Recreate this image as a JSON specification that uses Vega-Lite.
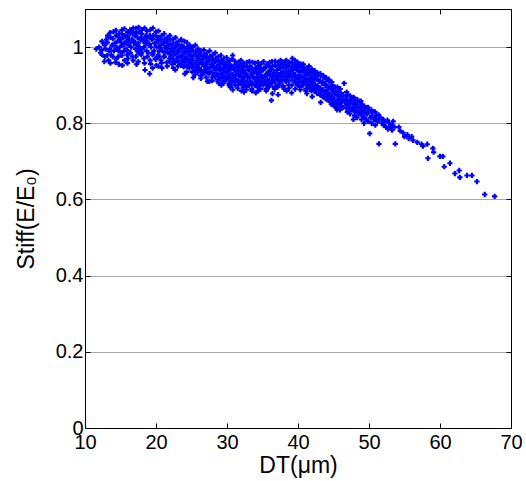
{
"$schema":"https://vega.github.io/schema/vega-lite/v6.json",
"width":426,"height":419,
"autosize":{"type":"none"},
"padding":{"left":85,"top":9,"right":15,"bottom":53},
"background":"white",
"config":{"view":{"stroke":null},"font":"Liberation Sans",
"axis":{"domainColor":"#000","domainWidth":1,"tickColor":"#000","tickWidth":1,"labelColor":"#000","titleColor":"#000","labelFont":"Liberation Sans","titleFont":"Liberation Sans","labelFontWeight":"normal","titleFontWeight":"normal","labelOverlap":false}},
"datasets":{"pts":[
{"dt":11.6,"stiff":0.995},{"dt":12.0,"stiff":1.0},{"dt":12.2,"stiff":0.985},{"dt":12.4,"stiff":0.98},{"dt":12.6,"stiff":1.01},
{"dt":12.8,"stiff":0.975},{"dt":13.0,"stiff":1.02},{"dt":12.9,"stiff":0.995},{"dt":13.2,"stiff":1.03},{"dt":13.4,"stiff":0.99},{"dt":13.3,"stiff":0.965},
{"dt":13.6,"stiff":1.025},{"dt":13.8,"stiff":1.005},{"dt":13.7,"stiff":0.98},
{"dt":14.0,"stiff":1.04},{"dt":14.2,"stiff":1.01},{"dt":14.1,"stiff":0.99},{"dt":14.3,"stiff":0.96},
{"dt":14.4,"stiff":1.03},{"dt":14.6,"stiff":1.015},{"dt":14.5,"stiff":0.995},{"dt":14.7,"stiff":0.975},
{"dt":14.8,"stiff":1.035},{"dt":15.0,"stiff":1.02},{"dt":14.9,"stiff":1.0},{"dt":15.1,"stiff":0.985},
{"dt":15.2,"stiff":1.045},{"dt":15.4,"stiff":1.025},{"dt":15.3,"stiff":1.005},{"dt":15.5,"stiff":0.99},{"dt":15.25,"stiff":0.952},
{"dt":15.6,"stiff":1.03},{"dt":15.8,"stiff":1.015},{"dt":15.7,"stiff":0.995},{"dt":15.9,"stiff":0.98},
{"dt":16.0,"stiff":1.04},{"dt":16.2,"stiff":1.02},{"dt":16.1,"stiff":1.005},{"dt":16.3,"stiff":0.985},{"dt":16.05,"stiff":0.97},
{"dt":16.4,"stiff":1.035},{"dt":16.6,"stiff":1.02},{"dt":16.5,"stiff":1.0},{"dt":16.7,"stiff":0.975},
{"dt":16.8,"stiff":1.05},{"dt":17.0,"stiff":1.03},{"dt":16.9,"stiff":1.01},{"dt":17.1,"stiff":0.995},
{"dt":17.2,"stiff":1.049},{"dt":17.4,"stiff":1.025},{"dt":17.3,"stiff":1.005},{"dt":17.5,"stiff":0.985},{"dt":17.25,"stiff":0.955},
{"dt":17.6,"stiff":1.04},{"dt":17.8,"stiff":1.02},{"dt":17.7,"stiff":1.0},{"dt":17.9,"stiff":0.98},
{"dt":18.0,"stiff":1.035},{"dt":18.2,"stiff":1.015},{"dt":18.1,"stiff":0.995},{"dt":18.3,"stiff":0.97},
{"dt":18.4,"stiff":1.05},{"dt":18.6,"stiff":1.03},{"dt":18.5,"stiff":1.01},{"dt":18.7,"stiff":0.99},{"dt":18.45,"stiff":0.94},
{"dt":18.8,"stiff":1.025},{"dt":19.0,"stiff":1.005},{"dt":18.9,"stiff":0.985},{"dt":19.1,"stiff":0.93},
{"dt":19.2,"stiff":1.045},{"dt":19.4,"stiff":1.02},{"dt":19.3,"stiff":1.0},{"dt":19.5,"stiff":0.98},{"dt":19.25,"stiff":0.956},
{"dt":19.6,"stiff":1.03},{"dt":19.8,"stiff":1.01},{"dt":19.7,"stiff":0.99},{"dt":19.9,"stiff":0.97},
{"dt":20.0,"stiff":1.04},{"dt":20.2,"stiff":1.02},{"dt":20.1,"stiff":1.0},{"dt":20.3,"stiff":0.98},{"dt":20.05,"stiff":0.952},
{"dt":20.4,"stiff":1.025},{"dt":20.6,"stiff":1.005},{"dt":20.5,"stiff":0.99},{"dt":20.7,"stiff":0.965},
{"dt":20.8,"stiff":1.03},{"dt":21.0,"stiff":1.01},{"dt":20.9,"stiff":0.99},{"dt":21.1,"stiff":0.975},{"dt":20.85,"stiff":0.945},
{"dt":21.2,"stiff":1.02},{"dt":21.4,"stiff":1.0},{"dt":21.3,"stiff":0.985},{"dt":21.5,"stiff":0.96},
{"dt":21.6,"stiff":1.025},{"dt":21.8,"stiff":1.005},{"dt":21.7,"stiff":0.985},{"dt":21.9,"stiff":0.97},
{"dt":22.0,"stiff":1.02},{"dt":22.2,"stiff":0.995},{"dt":22.1,"stiff":0.975},{"dt":22.3,"stiff":0.955},
{"dt":22.4,"stiff":1.02},{"dt":22.6,"stiff":1.0},{"dt":22.5,"stiff":0.98},{"dt":22.7,"stiff":0.96},{"dt":22.45,"stiff":0.945},
{"dt":22.8,"stiff":1.01},{"dt":23.0,"stiff":0.99},{"dt":22.9,"stiff":0.97},{"dt":23.1,"stiff":0.95},
{"dt":23.2,"stiff":1.015},{"dt":23.4,"stiff":0.995},{"dt":23.3,"stiff":0.975},{"dt":23.5,"stiff":0.955},
{"dt":23.6,"stiff":1.005},{"dt":23.8,"stiff":0.985},{"dt":23.7,"stiff":0.965},{"dt":23.9,"stiff":0.948},
{"dt":24.0,"stiff":1.015},{"dt":24.2,"stiff":0.99},{"dt":24.1,"stiff":0.97},{"dt":24.3,"stiff":0.95},{"dt":24.05,"stiff":0.93},
{"dt":24.4,"stiff":1.0},{"dt":24.6,"stiff":0.98},{"dt":24.5,"stiff":0.96},{"dt":24.7,"stiff":0.945},
{"dt":24.8,"stiff":0.995},{"dt":25.0,"stiff":0.975},{"dt":24.9,"stiff":0.955},{"dt":25.1,"stiff":0.935},
{"dt":25.2,"stiff":1.0},{"dt":25.4,"stiff":0.98},{"dt":25.3,"stiff":0.96},{"dt":25.5,"stiff":0.94},{"dt":25.25,"stiff":0.92},
{"dt":25.6,"stiff":0.99},{"dt":25.8,"stiff":0.97},{"dt":25.7,"stiff":0.95},{"dt":25.9,"stiff":0.935},
{"dt":26.0,"stiff":0.985},{"dt":26.2,"stiff":0.965},{"dt":26.1,"stiff":0.945},{"dt":26.3,"stiff":0.925},
{"dt":26.4,"stiff":0.99},{"dt":26.6,"stiff":0.97},{"dt":26.5,"stiff":0.955},{"dt":26.7,"stiff":0.935},
{"dt":26.8,"stiff":0.98},{"dt":27.0,"stiff":0.96},{"dt":26.9,"stiff":0.94},{"dt":27.1,"stiff":0.92},
{"dt":27.2,"stiff":0.985},{"dt":27.4,"stiff":0.965},{"dt":27.3,"stiff":0.945},{"dt":27.5,"stiff":0.93},{"dt":27.25,"stiff":0.91},
{"dt":27.6,"stiff":0.975},{"dt":27.8,"stiff":0.955},{"dt":27.7,"stiff":0.935},{"dt":27.9,"stiff":0.92},
{"dt":28.0,"stiff":0.98},{"dt":28.2,"stiff":0.96},{"dt":28.1,"stiff":0.945},{"dt":28.3,"stiff":0.925},
{"dt":28.4,"stiff":0.97},{"dt":28.6,"stiff":0.95},{"dt":28.5,"stiff":0.93},{"dt":28.7,"stiff":0.915},
{"dt":28.8,"stiff":0.975},{"dt":29.0,"stiff":0.955},{"dt":28.9,"stiff":0.94},{"dt":29.1,"stiff":0.92},{"dt":28.85,"stiff":0.905},
{"dt":29.2,"stiff":0.965},{"dt":29.4,"stiff":0.945},{"dt":29.3,"stiff":0.93},{"dt":29.5,"stiff":0.91},
{"dt":29.6,"stiff":0.97},{"dt":29.8,"stiff":0.95},{"dt":29.7,"stiff":0.935},{"dt":29.9,"stiff":0.915},
{"dt":30.0,"stiff":0.96},{"dt":30.2,"stiff":0.945},{"dt":30.1,"stiff":0.925},{"dt":30.3,"stiff":0.905},
{"dt":30.4,"stiff":0.965},{"dt":30.6,"stiff":0.95},{"dt":30.5,"stiff":0.93},{"dt":30.7,"stiff":0.91},{"dt":30.45,"stiff":0.895},
{"dt":30.8,"stiff":0.978},{"dt":31.0,"stiff":0.94},{"dt":30.9,"stiff":0.92},{"dt":31.1,"stiff":0.9},
{"dt":31.2,"stiff":0.955},{"dt":31.4,"stiff":0.935},{"dt":31.3,"stiff":0.915},{"dt":31.5,"stiff":0.9},
{"dt":31.6,"stiff":0.96},{"dt":31.8,"stiff":0.94},{"dt":31.7,"stiff":0.925},{"dt":31.9,"stiff":0.905},
{"dt":32.0,"stiff":0.955},{"dt":32.2,"stiff":0.935},{"dt":32.1,"stiff":0.915},{"dt":32.3,"stiff":0.895},{"dt":32.05,"stiff":0.885},
{"dt":32.4,"stiff":0.95},{"dt":32.6,"stiff":0.93},{"dt":32.5,"stiff":0.91},{"dt":32.7,"stiff":0.895},
{"dt":32.8,"stiff":0.96},{"dt":33.0,"stiff":0.94},{"dt":32.9,"stiff":0.92},{"dt":33.1,"stiff":0.9},
{"dt":33.2,"stiff":0.95},{"dt":33.4,"stiff":0.93},{"dt":33.3,"stiff":0.91},{"dt":33.5,"stiff":0.89},
{"dt":33.6,"stiff":0.96},{"dt":33.8,"stiff":0.935},{"dt":33.7,"stiff":0.92},{"dt":33.9,"stiff":0.9},
{"dt":34.0,"stiff":0.945},{"dt":34.2,"stiff":0.93},{"dt":34.1,"stiff":0.91},{"dt":34.3,"stiff":0.895},{"dt":34.05,"stiff":0.88},
{"dt":34.4,"stiff":0.95},{"dt":34.6,"stiff":0.935},{"dt":34.5,"stiff":0.915},{"dt":34.7,"stiff":0.9},
{"dt":34.8,"stiff":0.955},{"dt":35.0,"stiff":0.94},{"dt":34.9,"stiff":0.92},{"dt":35.1,"stiff":0.905},
{"dt":35.2,"stiff":0.945},{"dt":35.4,"stiff":0.925},{"dt":35.3,"stiff":0.91},{"dt":35.5,"stiff":0.89},
{"dt":35.6,"stiff":0.955},{"dt":35.8,"stiff":0.935},{"dt":35.7,"stiff":0.915},{"dt":35.9,"stiff":0.9},
{"dt":36.0,"stiff":0.96},{"dt":36.2,"stiff":0.94},{"dt":36.1,"stiff":0.925},{"dt":36.3,"stiff":0.905},{"dt":36.25,"stiff":0.86},
{"dt":36.4,"stiff":0.95},{"dt":36.6,"stiff":0.93},{"dt":36.5,"stiff":0.915},{"dt":36.7,"stiff":0.895},
{"dt":36.8,"stiff":0.963},{"dt":37.0,"stiff":0.94},{"dt":36.9,"stiff":0.92},{"dt":37.1,"stiff":0.9},
{"dt":37.2,"stiff":0.96},{"dt":37.4,"stiff":0.945},{"dt":37.3,"stiff":0.925},{"dt":37.5,"stiff":0.91},
{"dt":37.6,"stiff":0.955},{"dt":37.8,"stiff":0.935},{"dt":37.7,"stiff":0.915},{"dt":37.9,"stiff":0.895},
{"dt":38.0,"stiff":0.96},{"dt":38.2,"stiff":0.945},{"dt":38.1,"stiff":0.925},{"dt":38.3,"stiff":0.91},{"dt":38.05,"stiff":0.89},
{"dt":38.4,"stiff":0.955},{"dt":38.6,"stiff":0.935},{"dt":38.5,"stiff":0.92},{"dt":38.7,"stiff":0.9},
{"dt":38.8,"stiff":0.96},{"dt":39.0,"stiff":0.94},{"dt":38.9,"stiff":0.925},{"dt":39.1,"stiff":0.88},
{"dt":39.2,"stiff":0.97},{"dt":39.4,"stiff":0.95},{"dt":39.3,"stiff":0.93},{"dt":39.5,"stiff":0.91},
{"dt":39.6,"stiff":0.955},{"dt":39.8,"stiff":0.94},{"dt":39.7,"stiff":0.92},{"dt":39.9,"stiff":0.9},
{"dt":40.0,"stiff":0.95},{"dt":40.2,"stiff":0.935},{"dt":40.1,"stiff":0.915},{"dt":40.3,"stiff":0.895},
{"dt":40.4,"stiff":0.955},{"dt":40.6,"stiff":0.94},{"dt":40.5,"stiff":0.92},{"dt":40.7,"stiff":0.905},
{"dt":40.8,"stiff":0.947},{"dt":41.0,"stiff":0.93},{"dt":40.9,"stiff":0.91},{"dt":41.1,"stiff":0.89},
{"dt":41.2,"stiff":0.945},{"dt":41.4,"stiff":0.93},{"dt":41.3,"stiff":0.915},{"dt":41.5,"stiff":0.9},{"dt":41.25,"stiff":0.878},
{"dt":41.6,"stiff":0.94},{"dt":41.8,"stiff":0.92},{"dt":41.7,"stiff":0.905},{"dt":41.9,"stiff":0.885},
{"dt":42.0,"stiff":0.935},{"dt":42.2,"stiff":0.915},{"dt":42.1,"stiff":0.9},{"dt":42.3,"stiff":0.885},
{"dt":42.4,"stiff":0.93},{"dt":42.6,"stiff":0.915},{"dt":42.5,"stiff":0.895},{"dt":42.7,"stiff":0.88},
{"dt":42.8,"stiff":0.925},{"dt":43.0,"stiff":0.91},{"dt":42.9,"stiff":0.89},{"dt":43.1,"stiff":0.875},
{"dt":43.2,"stiff":0.925},{"dt":43.4,"stiff":0.905},{"dt":43.3,"stiff":0.885},{"dt":43.5,"stiff":0.87},
{"dt":43.6,"stiff":0.92},{"dt":43.8,"stiff":0.9},{"dt":43.7,"stiff":0.88},{"dt":43.9,"stiff":0.865},
{"dt":44.0,"stiff":0.915},{"dt":44.2,"stiff":0.895},{"dt":44.1,"stiff":0.875},{"dt":44.3,"stiff":0.86},
{"dt":44.4,"stiff":0.91},{"dt":44.6,"stiff":0.89},{"dt":44.5,"stiff":0.87},{"dt":44.7,"stiff":0.85},
{"dt":44.8,"stiff":0.9},{"dt":45.0,"stiff":0.88},{"dt":44.9,"stiff":0.86},{"dt":45.1,"stiff":0.845},
{"dt":45.2,"stiff":0.895},{"dt":45.4,"stiff":0.875},{"dt":45.3,"stiff":0.855},{"dt":45.5,"stiff":0.84},
{"dt":45.6,"stiff":0.885},{"dt":45.8,"stiff":0.865},{"dt":45.7,"stiff":0.85},
{"dt":46.0,"stiff":0.88},{"dt":46.2,"stiff":0.86},{"dt":46.1,"stiff":0.845},
{"dt":46.5,"stiff":0.905},{"dt":46.7,"stiff":0.87},{"dt":46.6,"stiff":0.855},{"dt":46.8,"stiff":0.84},
{"dt":47.0,"stiff":0.875},{"dt":47.2,"stiff":0.855},{"dt":47.1,"stiff":0.84},
{"dt":47.5,"stiff":0.865},{"dt":47.7,"stiff":0.85},{"dt":47.6,"stiff":0.835},{"dt":47.8,"stiff":0.81},
{"dt":48.0,"stiff":0.86},{"dt":48.2,"stiff":0.845},{"dt":48.1,"stiff":0.83},
{"dt":48.5,"stiff":0.855},{"dt":48.7,"stiff":0.84},{"dt":48.6,"stiff":0.825},
{"dt":49.0,"stiff":0.85},{"dt":49.2,"stiff":0.835},{"dt":49.1,"stiff":0.82},{"dt":49.3,"stiff":0.8},
{"dt":49.5,"stiff":0.84},{"dt":49.7,"stiff":0.825},{"dt":49.6,"stiff":0.81},
{"dt":50.0,"stiff":0.835},{"dt":50.2,"stiff":0.815},{"dt":50.1,"stiff":0.773},
{"dt":50.5,"stiff":0.83},{"dt":50.7,"stiff":0.81},
{"dt":51.0,"stiff":0.82},{"dt":51.2,"stiff":0.805},{"dt":51.4,"stiff":0.746},
{"dt":51.6,"stiff":0.815},{"dt":51.8,"stiff":0.8},
{"dt":52.2,"stiff":0.805},{"dt":52.4,"stiff":0.79},
{"dt":52.8,"stiff":0.8},{"dt":53.0,"stiff":0.79},
{"dt":53.4,"stiff":0.805},{"dt":53.6,"stiff":0.79},{"dt":53.7,"stiff":0.746},
{"dt":54.2,"stiff":0.79},{"dt":54.4,"stiff":0.78},
{"dt":54.8,"stiff":0.775},{"dt":55.0,"stiff":0.765},
{"dt":55.4,"stiff":0.77},{"dt":55.6,"stiff":0.76},
{"dt":56.0,"stiff":0.765},{"dt":56.2,"stiff":0.755},
{"dt":56.8,"stiff":0.75},{"dt":57.4,"stiff":0.745},{"dt":57.6,"stiff":0.74},
{"dt":58.2,"stiff":0.745},{"dt":58.3,"stiff":0.708},
{"dt":59.0,"stiff":0.734},{"dt":59.1,"stiff":0.724},
{"dt":60.0,"stiff":0.713},{"dt":60.4,"stiff":0.713},{"dt":60.6,"stiff":0.686},
{"dt":61.4,"stiff":0.695},{"dt":62.1,"stiff":0.668},{"dt":62.7,"stiff":0.676},{"dt":62.8,"stiff":0.658},
{"dt":63.8,"stiff":0.663},{"dt":64.5,"stiff":0.663},{"dt":65.2,"stiff":0.647},
{"dt":66.3,"stiff":0.613},{"dt":67.7,"stiff":0.608},
{"dt":12.35,"stiff":0.992},{"dt":12.38,"stiff":1.015},
{"dt":12.75,"stiff":1.005},{"dt":12.72,"stiff":0.962},
{"dt":13.15,"stiff":1.012},{"dt":13.12,"stiff":0.978},
{"dt":13.55,"stiff":1.038},{"dt":13.5,"stiff":0.995},{"dt":13.58,"stiff":0.958},
{"dt":13.95,"stiff":1.022},{"dt":13.9,"stiff":0.975},
{"dt":14.35,"stiff":1.044},{"dt":14.32,"stiff":1.002},{"dt":14.38,"stiff":0.968},
{"dt":14.75,"stiff":1.026},{"dt":14.7,"stiff":0.99},{"dt":14.78,"stiff":0.955},
{"dt":15.15,"stiff":1.035},{"dt":15.1,"stiff":1.012},{"dt":15.18,"stiff":0.978},
{"dt":15.55,"stiff":1.048},{"dt":15.5,"stiff":1.008},{"dt":15.58,"stiff":0.965},
{"dt":15.95,"stiff":1.028},{"dt":15.9,"stiff":0.992},{"dt":15.98,"stiff":0.958},
{"dt":16.35,"stiff":1.045},{"dt":16.3,"stiff":1.012},{"dt":16.38,"stiff":0.985},
{"dt":16.75,"stiff":1.04},{"dt":16.7,"stiff":1.018},{"dt":16.78,"stiff":0.965},
{"dt":17.15,"stiff":1.035},{"dt":17.1,"stiff":1.012},{"dt":17.18,"stiff":0.975},
{"dt":17.55,"stiff":1.052},{"dt":17.5,"stiff":1.01},{"dt":17.58,"stiff":0.99},{"dt":17.52,"stiff":0.962},
{"dt":17.95,"stiff":1.045},{"dt":17.9,"stiff":1.025},{"dt":17.98,"stiff":0.985},
{"dt":18.35,"stiff":1.022},{"dt":18.3,"stiff":1.0},{"dt":18.38,"stiff":0.958},
{"dt":18.75,"stiff":1.042},{"dt":18.7,"stiff":1.015},{"dt":18.78,"stiff":0.975},
{"dt":19.15,"stiff":1.03},{"dt":19.1,"stiff":1.008},{"dt":19.18,"stiff":0.965},
{"dt":19.55,"stiff":1.05},{"dt":19.5,"stiff":1.022},{"dt":19.58,"stiff":0.985},{"dt":19.52,"stiff":0.945},
{"dt":19.95,"stiff":1.03},{"dt":19.9,"stiff":1.01},{"dt":19.98,"stiff":0.968},
{"dt":20.35,"stiff":1.042},{"dt":20.3,"stiff":1.015},{"dt":20.38,"stiff":0.975},{"dt":20.32,"stiff":0.95},
{"dt":20.75,"stiff":1.02},{"dt":20.7,"stiff":0.998},{"dt":20.78,"stiff":0.958},
{"dt":21.15,"stiff":1.035},{"dt":21.1,"stiff":1.01},{"dt":21.18,"stiff":0.975},
{"dt":21.55,"stiff":1.015},{"dt":21.5,"stiff":0.995},{"dt":21.58,"stiff":0.95},
{"dt":21.95,"stiff":1.03},{"dt":21.9,"stiff":1.005},{"dt":21.98,"stiff":0.985},{"dt":21.92,"stiff":0.962},
{"dt":22.35,"stiff":1.01},{"dt":22.3,"stiff":0.99},{"dt":22.38,"stiff":0.968},
{"dt":22.75,"stiff":1.025},{"dt":22.7,"stiff":1.0},{"dt":22.78,"stiff":0.982},{"dt":22.72,"stiff":0.94},
{"dt":23.15,"stiff":1.005},{"dt":23.1,"stiff":0.985},{"dt":23.18,"stiff":0.962},
{"dt":23.55,"stiff":1.02},{"dt":23.5,"stiff":0.995},{"dt":23.58,"stiff":0.975},{"dt":23.52,"stiff":0.952},
{"dt":23.95,"stiff":1.0},{"dt":23.9,"stiff":0.98},{"dt":23.98,"stiff":0.96},
{"dt":24.35,"stiff":1.012},{"dt":24.3,"stiff":0.99},{"dt":24.38,"stiff":0.97},{"dt":24.32,"stiff":0.935},
{"dt":24.75,"stiff":1.005},{"dt":24.7,"stiff":0.985},{"dt":24.78,"stiff":0.965},
{"dt":25.15,"stiff":0.99},{"dt":25.1,"stiff":0.968},{"dt":25.18,"stiff":0.948},
{"dt":25.55,"stiff":1.005},{"dt":25.5,"stiff":0.98},{"dt":25.58,"stiff":0.96},{"dt":25.52,"stiff":0.928},
{"dt":25.95,"stiff":0.995},{"dt":25.9,"stiff":0.975},{"dt":25.98,"stiff":0.955},{"dt":25.92,"stiff":0.935},
{"dt":26.35,"stiff":0.98},{"dt":26.3,"stiff":0.96},{"dt":26.38,"stiff":0.94},{"dt":26.32,"stiff":0.918},
{"dt":26.75,"stiff":0.992},{"dt":26.7,"stiff":0.97},{"dt":26.78,"stiff":0.95},{"dt":26.72,"stiff":0.93},
{"dt":27.15,"stiff":0.975},{"dt":27.1,"stiff":0.955},{"dt":27.18,"stiff":0.935},
{"dt":27.55,"stiff":0.99},{"dt":27.5,"stiff":0.965},{"dt":27.58,"stiff":0.945},{"dt":27.52,"stiff":0.91},
{"dt":27.95,"stiff":0.97},{"dt":27.9,"stiff":0.952},{"dt":27.98,"stiff":0.932},{"dt":27.92,"stiff":0.912},
{"dt":28.35,"stiff":0.985},{"dt":28.3,"stiff":0.962},{"dt":28.38,"stiff":0.94},{"dt":28.32,"stiff":0.922},
{"dt":28.75,"stiff":0.965},{"dt":28.7,"stiff":0.945},{"dt":28.78,"stiff":0.928},{"dt":28.72,"stiff":0.91},
{"dt":29.15,"stiff":0.978},{"dt":29.1,"stiff":0.955},{"dt":29.18,"stiff":0.938},{"dt":29.12,"stiff":0.918},{"dt":29.2,"stiff":0.9},
{"dt":29.55,"stiff":0.96},{"dt":29.5,"stiff":0.94},{"dt":29.58,"stiff":0.922},{"dt":29.52,"stiff":0.905},
{"dt":29.95,"stiff":0.972},{"dt":29.9,"stiff":0.952},{"dt":29.98,"stiff":0.935},{"dt":29.92,"stiff":0.915},
{"dt":30.35,"stiff":0.955},{"dt":30.3,"stiff":0.94},{"dt":30.38,"stiff":0.918},{"dt":30.32,"stiff":0.9},
{"dt":30.75,"stiff":0.968},{"dt":30.7,"stiff":0.948},{"dt":30.78,"stiff":0.928},{"dt":30.72,"stiff":0.91},{"dt":30.8,"stiff":0.888},
{"dt":31.15,"stiff":0.962},{"dt":31.1,"stiff":0.945},{"dt":31.18,"stiff":0.925},{"dt":31.12,"stiff":0.908},
{"dt":31.55,"stiff":0.95},{"dt":31.5,"stiff":0.93},{"dt":31.58,"stiff":0.912},{"dt":31.52,"stiff":0.892},
{"dt":31.95,"stiff":0.965},{"dt":31.9,"stiff":0.945},{"dt":31.98,"stiff":0.925},{"dt":31.92,"stiff":0.905},
{"dt":32.35,"stiff":0.958},{"dt":32.3,"stiff":0.94},{"dt":32.38,"stiff":0.92},{"dt":32.32,"stiff":0.9},{"dt":32.4,"stiff":0.882},
{"dt":32.75,"stiff":0.948},{"dt":32.7,"stiff":0.928},{"dt":32.78,"stiff":0.908},{"dt":32.72,"stiff":0.888},
{"dt":33.15,"stiff":0.962},{"dt":33.1,"stiff":0.94},{"dt":33.18,"stiff":0.92},{"dt":33.12,"stiff":0.9},
{"dt":33.55,"stiff":0.945},{"dt":33.5,"stiff":0.925},{"dt":33.58,"stiff":0.905},{"dt":33.52,"stiff":0.885},
{"dt":33.95,"stiff":0.958},{"dt":33.9,"stiff":0.94},{"dt":33.98,"stiff":0.918},{"dt":33.92,"stiff":0.9},
{"dt":34.35,"stiff":0.96},{"dt":34.3,"stiff":0.942},{"dt":34.38,"stiff":0.922},{"dt":34.32,"stiff":0.905},{"dt":34.4,"stiff":0.885},
{"dt":34.75,"stiff":0.945},{"dt":34.7,"stiff":0.928},{"dt":34.78,"stiff":0.91},{"dt":34.72,"stiff":0.89},
{"dt":35.15,"stiff":0.962},{"dt":35.1,"stiff":0.94},{"dt":35.18,"stiff":0.92},{"dt":35.12,"stiff":0.9},
{"dt":35.55,"stiff":0.948},{"dt":35.5,"stiff":0.928},{"dt":35.58,"stiff":0.905},{"dt":35.52,"stiff":0.885},
{"dt":35.95,"stiff":0.95},{"dt":35.9,"stiff":0.932},{"dt":35.98,"stiff":0.912},{"dt":35.92,"stiff":0.895},
{"dt":36.35,"stiff":0.962},{"dt":36.3,"stiff":0.942},{"dt":36.38,"stiff":0.922},{"dt":36.32,"stiff":0.905},{"dt":36.4,"stiff":0.878},
{"dt":36.75,"stiff":0.952},{"dt":36.7,"stiff":0.932},{"dt":36.78,"stiff":0.91},{"dt":36.72,"stiff":0.89},
{"dt":37.15,"stiff":0.95},{"dt":37.1,"stiff":0.932},{"dt":37.18,"stiff":0.915},{"dt":37.12,"stiff":0.895},{"dt":37.2,"stiff":0.875},
{"dt":37.55,"stiff":0.965},{"dt":37.5,"stiff":0.945},{"dt":37.58,"stiff":0.925},{"dt":37.52,"stiff":0.905},
{"dt":37.95,"stiff":0.952},{"dt":37.9,"stiff":0.935},{"dt":37.98,"stiff":0.915},{"dt":37.92,"stiff":0.898},
{"dt":38.35,"stiff":0.965},{"dt":38.3,"stiff":0.945},{"dt":38.38,"stiff":0.928},{"dt":38.32,"stiff":0.91},{"dt":38.4,"stiff":0.885},
{"dt":38.75,"stiff":0.95},{"dt":38.7,"stiff":0.932},{"dt":38.78,"stiff":0.912},{"dt":38.72,"stiff":0.892},
{"dt":39.15,"stiff":0.958},{"dt":39.1,"stiff":0.94},{"dt":39.18,"stiff":0.92},{"dt":39.12,"stiff":0.9},
{"dt":39.55,"stiff":0.965},{"dt":39.5,"stiff":0.945},{"dt":39.58,"stiff":0.928},{"dt":39.52,"stiff":0.91},{"dt":39.6,"stiff":0.89},
{"dt":39.95,"stiff":0.96},{"dt":39.9,"stiff":0.942},{"dt":39.98,"stiff":0.922},{"dt":39.92,"stiff":0.905},
{"dt":40.35,"stiff":0.948},{"dt":40.3,"stiff":0.928},{"dt":40.38,"stiff":0.91},{"dt":40.32,"stiff":0.888},
{"dt":40.75,"stiff":0.955},{"dt":40.7,"stiff":0.938},{"dt":40.78,"stiff":0.92},{"dt":40.72,"stiff":0.9},
{"dt":41.15,"stiff":0.94},{"dt":41.1,"stiff":0.92},{"dt":41.18,"stiff":0.905},{"dt":41.12,"stiff":0.885},
{"dt":41.55,"stiff":0.95},{"dt":41.5,"stiff":0.932},{"dt":41.58,"stiff":0.912},{"dt":41.52,"stiff":0.895},
{"dt":41.95,"stiff":0.942},{"dt":41.9,"stiff":0.925},{"dt":41.98,"stiff":0.908},{"dt":41.92,"stiff":0.89},{"dt":42.0,"stiff":0.87},
{"dt":42.35,"stiff":0.938},{"dt":42.3,"stiff":0.92},{"dt":42.38,"stiff":0.902},{"dt":42.32,"stiff":0.885},
{"dt":42.75,"stiff":0.932},{"dt":42.7,"stiff":0.915},{"dt":42.78,"stiff":0.898},{"dt":42.72,"stiff":0.878},
{"dt":43.15,"stiff":0.93},{"dt":43.1,"stiff":0.912},{"dt":43.18,"stiff":0.892},{"dt":43.12,"stiff":0.875},{"dt":43.2,"stiff":0.855},
{"dt":43.55,"stiff":0.925},{"dt":43.5,"stiff":0.908},{"dt":43.58,"stiff":0.888},{"dt":43.52,"stiff":0.87},
{"dt":43.95,"stiff":0.92},{"dt":43.9,"stiff":0.902},{"dt":43.98,"stiff":0.885},{"dt":43.92,"stiff":0.865},
{"dt":44.35,"stiff":0.915},{"dt":44.3,"stiff":0.895},{"dt":44.38,"stiff":0.878},{"dt":44.32,"stiff":0.86},
{"dt":44.75,"stiff":0.908},{"dt":44.7,"stiff":0.89},{"dt":44.78,"stiff":0.87},{"dt":44.72,"stiff":0.852},
{"dt":45.15,"stiff":0.885},{"dt":45.1,"stiff":0.865},{"dt":45.18,"stiff":0.848},
{"dt":45.55,"stiff":0.895},{"dt":45.5,"stiff":0.875},{"dt":45.58,"stiff":0.858},{"dt":45.52,"stiff":0.835},
{"dt":45.95,"stiff":0.89},{"dt":45.9,"stiff":0.87},{"dt":45.98,"stiff":0.852},{"dt":45.92,"stiff":0.835},
{"dt":46.35,"stiff":0.875},{"dt":46.3,"stiff":0.862},{"dt":46.38,"stiff":0.842},
{"dt":46.85,"stiff":0.882},{"dt":46.9,"stiff":0.862},{"dt":46.88,"stiff":0.848},{"dt":46.95,"stiff":0.83},
{"dt":47.35,"stiff":0.872},{"dt":47.3,"stiff":0.858},{"dt":47.38,"stiff":0.842},{"dt":47.32,"stiff":0.825},
{"dt":47.85,"stiff":0.868},{"dt":47.9,"stiff":0.852},{"dt":47.88,"stiff":0.838},{"dt":47.95,"stiff":0.82},
{"dt":48.35,"stiff":0.862},{"dt":48.3,"stiff":0.848},{"dt":48.38,"stiff":0.832},{"dt":48.32,"stiff":0.815},
{"dt":48.85,"stiff":0.858},{"dt":48.9,"stiff":0.842},{"dt":48.88,"stiff":0.828},{"dt":48.95,"stiff":0.81},
{"dt":49.35,"stiff":0.845},{"dt":49.4,"stiff":0.83},{"dt":49.38,"stiff":0.815},
{"dt":49.85,"stiff":0.842},{"dt":49.9,"stiff":0.828},{"dt":49.88,"stiff":0.805},
{"dt":50.35,"stiff":0.835},{"dt":50.4,"stiff":0.82},{"dt":50.38,"stiff":0.8},
{"dt":50.85,"stiff":0.83},{"dt":50.9,"stiff":0.812},{"dt":50.88,"stiff":0.795},
{"dt":51.35,"stiff":0.822},{"dt":51.4,"stiff":0.808},
{"dt":52.0,"stiff":0.81},{"dt":52.05,"stiff":0.795},
{"dt":52.6,"stiff":0.808},{"dt":52.65,"stiff":0.785},
{"dt":53.2,"stiff":0.795},{"dt":53.25,"stiff":0.782}
]},
"data":{"name":"pts"},
"layer":[
{"mark":{"type":"point","shape":"cross","filled":true,"size":28,"color":"#0000ff","opacity":1},
"encoding":{
"x":{"field":"dt","type":"quantitative","scale":{"domain":[10,70],"nice":false,"zero":false},
"axis":{"orient":"bottom","values":[10,20,30,40,50,60,70],"title":"DT(μm)","grid":false,"tickSize":-5,"labelPadding":9,"labelFontSize":20,"labelFlush":false,"titleFontSize":23,"titleY":44.6,"titleBaseline":"alphabetic"}},
"y":{"field":"stiff","type":"quantitative","scale":{"domain":[0,1.1],"nice":false,"zero":false},
"axis":{"orient":"left","values":[0,0.2,0.4,0.6,0.8,1],"format":".1~f","title":"Stiff(E/E₀)","grid":true,"gridColor":"#000","gridDash":[1,1],"gridWidth":1,"gridOpacity":0.7,"tickSize":-5,"labelPadding":7,"labelFontSize":20,"titleFontSize":23,"titleX":-52,"titleBaseline":"alphabetic"}}
}},
{"mark":{"type":"point","opacity":0},
"encoding":{
"x":{"field":"dt","type":"quantitative","scale":{"domain":[10,70],"nice":false,"zero":false},
"axis":{"orient":"top","values":[10,20,30,40,50,60,70],"labels":false,"title":null,"grid":false,"tickSize":-5}},
"y":{"field":"stiff","type":"quantitative","scale":{"domain":[0,1.1],"nice":false,"zero":false},
"axis":{"orient":"right","values":[0,0.2,0.4,0.6,0.8,1],"labels":false,"title":null,"grid":false,"tickSize":-5}}
}}
],
"resolve":{"axis":{"x":"independent","y":"independent"}}
}
